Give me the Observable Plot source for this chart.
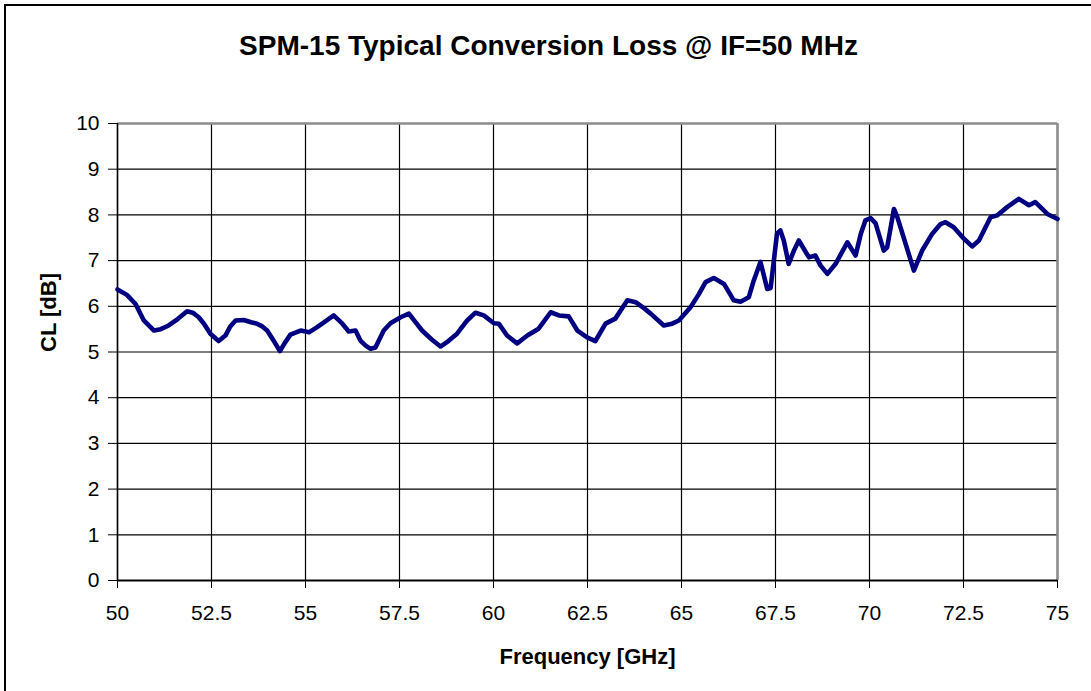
<!DOCTYPE html>
<html>
<head>
<meta charset="utf-8">
<script src="https://cdn.jsdelivr.net/npm/d3@7"></script>
<script src="https://cdn.jsdelivr.net/npm/@observablehq/plot@0.6"></script>
<style>
  html, body { margin: 0; padding: 0; background: #fff; }
  #wrap { position: relative; width: 1091px; height: 691px; overflow: hidden; }
  #frame { position: absolute; left: 4px; top: 4px; width: 1200px; height: 800px;
           border-left: 2px solid #000; border-top: 2px solid #000; pointer-events: none; }
  #chart { position: absolute; left: 0; top: 0; }
</style>
</head>
<body>
<div id="wrap"><div id="chart"></div><div id="frame"></div></div>
<script>
const titleText = "SPM-15 Typical Conversion Loss @ IF=50 MHz";
const xLabel = "Frequency [GHz]";
const yLabel = "CL [dB]";

const freq = [50.0,50.25,50.48,50.7,50.97,51.15,51.36,51.6,51.85,52.0,52.16,52.3,52.47,52.69,52.87,53.0,53.14,53.36,53.55,53.71,53.85,53.98,54.15,54.32,54.45,54.6,54.87,55.09,55.3,55.49,55.75,55.98,56.15,56.33,56.46,56.6,56.73,56.86,57.08,57.26,57.53,57.75,57.92,58.1,58.35,58.59,58.8,59.03,59.3,59.52,59.74,60.01,60.14,60.36,60.63,60.9,61.2,61.52,61.74,62.0,62.23,62.49,62.71,62.98,63.24,63.56,63.78,64.0,64.18,64.53,64.75,64.93,65.24,65.45,65.64,65.86,66.13,66.39,66.57,66.79,66.92,67.1,67.28,67.37,67.54,67.63,67.72,67.85,67.99,68.12,68.39,68.56,68.7,68.88,69.1,69.41,69.63,69.77,69.89,70.03,70.16,70.38,70.47,70.65,70.74,70.96,71.18,71.4,71.67,71.89,72.02,72.24,72.51,72.73,72.91,73.22,73.4,73.66,73.97,74.24,74.41,74.73,75.0];
const loss = [6.37,6.25,6.05,5.69,5.47,5.5,5.58,5.72,5.89,5.86,5.76,5.62,5.4,5.24,5.36,5.56,5.69,5.7,5.65,5.62,5.56,5.47,5.25,5.02,5.2,5.38,5.47,5.43,5.54,5.65,5.8,5.62,5.45,5.47,5.25,5.14,5.07,5.1,5.47,5.63,5.76,5.84,5.66,5.47,5.28,5.12,5.24,5.4,5.69,5.86,5.8,5.63,5.62,5.36,5.19,5.36,5.51,5.87,5.8,5.78,5.47,5.32,5.24,5.62,5.73,6.13,6.09,5.96,5.84,5.58,5.62,5.69,5.98,6.25,6.53,6.62,6.49,6.13,6.1,6.2,6.56,6.97,6.38,6.4,7.59,7.66,7.44,6.93,7.22,7.44,7.07,7.11,6.89,6.71,6.93,7.4,7.11,7.59,7.88,7.93,7.82,7.22,7.29,8.13,7.95,7.37,6.78,7.22,7.59,7.8,7.84,7.73,7.48,7.31,7.44,7.95,7.99,8.17,8.35,8.21,8.28,8.02,7.91];

const xTicks = [50,52.5,55,57.5,60,62.5,65,67.5,70,72.5,75];
const yTicks = [0,1,2,3,4,5,6,7,8,9,10];

const data = freq.map((f, i) => ({f, v: loss[i]}));
const font = "'Liberation Sans', Arial, Helvetica, sans-serif";

const chart = Plot.plot({
  width: 1091,
  height: 691,
  marginLeft: 117,
  marginRight: 34,
  marginTop: 123,
  marginBottom: 111,
  style: {fontFamily: font, fontSize: "21px", color: "#000", background: "transparent", overflow: "visible"},
  x: {domain: [50, 75], ticks: xTicks, label: null},
  y: {domain: [0, 10], ticks: yTicks, label: null},
  marks: [
    Plot.gridX(xTicks, {stroke: "#000", strokeOpacity: 1, strokeWidth: 1.2}),
    Plot.gridY(yTicks, {stroke: "#000", strokeOpacity: 1, strokeWidth: 1.2}),
    Plot.ruleY([10], {stroke: "#8c8c8c", strokeWidth: 2.5}),
    Plot.ruleX([75], {stroke: "#8c8c8c", strokeWidth: 2.5}),
    Plot.ruleX([50], {stroke: "#000", strokeWidth: 1.5}),
    Plot.ruleY([0], {stroke: "#000", strokeWidth: 2}),
    Plot.axisX({ticks: xTicks, tickSize: 8, tickPadding: 17, tickFormat: d => String(d), fontSize: 21}),
    Plot.axisY({ticks: yTicks, tickSize: 9, tickPadding: 9, tickFormat: d => String(d), fontSize: 21}),
    Plot.line(data, {x: "f", y: "v", stroke: "#000080", strokeWidth: 4.6, strokeLinejoin: "round", strokeLinecap: "round"}),
    Plot.text([titleText], {frameAnchor: "top", dx: -39, dy: -77, lineAnchor: "middle", fontSize: 28, fontWeight: "bold", fill: "#000"}),
    Plot.text([xLabel], {frameAnchor: "bottom", dy: 76, lineAnchor: "middle", fontSize: 22, fontWeight: "bold", fill: "#000"}),
    Plot.text([yLabel], {frameAnchor: "left", dx: -69, rotate: -90, lineAnchor: "middle", fontSize: 22, fontWeight: "bold", fill: "#000"})
  ]
});
document.getElementById("chart").appendChild(chart);
</script>
</body>
</html>
